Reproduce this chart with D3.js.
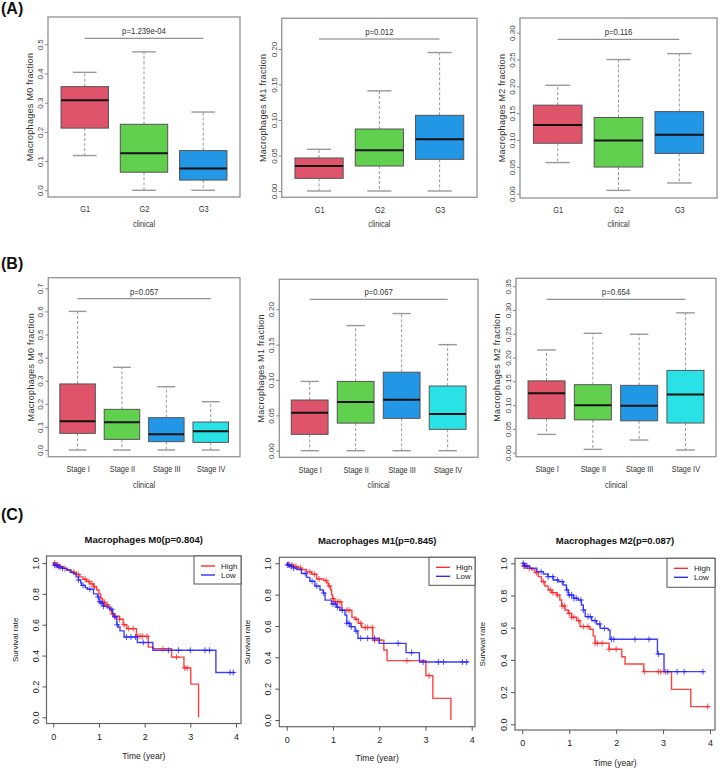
<!DOCTYPE html>
<html><head><meta charset="utf-8">
<script src="https://cdn.jsdelivr.net/npm/d3@7"></script>
<style>
body{margin:0;background:#fff}
svg{display:block}
text{font-family:"Liberation Sans",Arial,sans-serif}
</style>
</head><body>
<svg id="c" width="720" height="768"></svg>
<script>
// ---------- DATA ----------
const gradeCats = ["G1","G2","G3"];
const stageCats = ["Stage I","Stage II","Stage III","Stage IV"];
// each entry: [lower whisker, Q1, median, Q3, upper whisker]
const gradeM0 = [[0.119,0.213,0.308,0.355,0.404],[0,0.062,0.127,0.226,0.474],[0,0.035,0.075,0.136,0.268]];
const gradeM1 = [[0,0.0178,0.0352,0.0465,0.0587],[0,0.0352,0.0573,0.0873,0.141],[0,0.0446,0.0728,0.1066,0.195]];
const gradeM2 = [[0.058,0.094,0.128,0.165,0.202],[0.0062,0.0497,0.099,0.142,0.250],[0.020,0.075,0.110,0.153,0.261]];
const stageM0 = [[0,0.072,0.124,0.286,0.600],[0,0.046,0.120,0.176,0.358],[0,0.036,0.068,0.140,0.274],[0,0.033,0.081,0.121,0.209]];
const stageM1 = [[0,0.0231,0.0538,0.0717,0.098],[0,0.039,0.0689,0.098,0.177],[0,0.0458,0.0722,0.111,0.194],[0,0.0302,0.0519,0.0915,0.150]];
const stageM2 = [[0.0385,0.0715,0.125,0.151,0.216],[0.007,0.069,0.0995,0.143,0.251],[0.0266,0.067,0.0988,0.1416,0.249],[0.0056,0.0624,0.1226,0.173,0.294]];
const pGrade = ["p=1.239e-04","p=0.012","p=0.116"];
const pStage = ["p=0.057","p=0.067","p=0.654"];
const yLabels = ["Macrophages M0 fraction","Macrophages M1 fraction","Macrophages M2 fraction"];
const ticksGradeM0 = [0,0.1,0.2,0.3,0.4,0.5];
const ticksGradeM1 = [0,0.05,0.10,0.15,0.20];
const ticksGradeM2 = [0,0.05,0.10,0.15,0.20,0.25,0.30];
const ticksStageM0 = [0,0.1,0.2,0.3,0.4,0.5,0.6,0.7];
const ticksStageM1 = [0,0.05,0.10,0.15,0.20];
const ticksStageM2 = [0,0.05,0.10,0.15,0.20,0.25,0.30,0.35];

// Kaplan-Meier: drop times and survival after each drop
const kmM0HighT = [0.05,0.15,0.22,0.30,0.40,0.50,0.58,0.65,0.73,0.80,0.88,0.95,1.00,1.04,1.08,1.13,1.20,1.24,1.28,1.31,1.45,1.53,1.61,1.82,2.08,2.19,2.59,2.86,3.01,3.18];
const kmM0HighS = [0.985,0.975,0.965,0.955,0.94,0.925,0.91,0.895,0.88,0.865,0.845,0.825,0.80,0.77,0.745,0.73,0.72,0.69,0.67,0.655,0.635,0.60,0.575,0.525,0.455,0.445,0.39,0.32,0.215,0];
const kmM0HighEnd = 3.18;
const kmM0HighCens = [0.03,0.06,0.1,0.15,0.25,0.45,0.55,0.7,0.78,0.85,0.9,1.08,1.12,1.18,1.3,1.35,1.45,1.55,1.65,1.75,1.85,1.9,1.95,2.05,2.4,2.7,2.88,2.93];
const kmM0LowT = [0.01,0.10,0.20,0.29,0.37,0.44,0.50,0.55,0.60,0.62,0.70,0.75,0.88,0.97,1.00,1.04,1.09,1.18,1.24,1.30,1.33,1.39,1.42,1.46,1.55,1.84,2.18,3.56];
const kmM0LowS = [0.985,0.975,0.965,0.955,0.94,0.93,0.91,0.89,0.87,0.855,0.84,0.83,0.80,0.78,0.75,0.74,0.72,0.71,0.70,0.67,0.65,0.60,0.585,0.56,0.52,0.485,0.435,0.29];
const kmM0LowEnd = 3.98;
const kmM0LowCens = [0.03,0.08,0.12,0.2,0.55,0.65,0.8,0.98,1.02,1.05,1.1,1.28,1.35,1.4,1.6,1.7,1.8,1.97,2.52,2.74,3.0,3.32,3.42,3.87,3.94];

const kmM1HighT = [0.02,0.14,0.25,0.32,0.43,0.54,0.65,0.80,0.87,0.90,0.95,0.97,0.99,1.02,1.19,1.41,1.48,1.55,1.62,1.86,2.10,2.17,3.01,3.16,3.55];
const kmM1HighS = [0.99,0.98,0.97,0.96,0.945,0.93,0.90,0.89,0.875,0.855,0.83,0.80,0.775,0.755,0.70,0.655,0.643,0.617,0.59,0.51,0.447,0.379,0.283,0.138,0];
const kmM1HighEnd = 3.55;
const kmM1HighCens = [0.05,0.12,0.2,0.3,0.5,0.6,0.7,0.85,0.92,1.0,1.05,1.1,1.15,1.3,1.35,1.5,1.6,1.7,1.75,1.85,1.9,2.0,2.6,3.08];
const kmM1LowT = [0.01,0.07,0.15,0.22,0.32,0.43,0.50,0.61,0.72,0.79,0.83,0.97,1.08,1.15,1.26,1.30,1.37,1.48,1.54,2.00,2.58,2.87];
const kmM1LowS = [0.99,0.98,0.97,0.96,0.935,0.91,0.885,0.855,0.83,0.81,0.765,0.74,0.72,0.70,0.67,0.617,0.596,0.568,0.521,0.489,0.43,0.37];
const kmM1LowEnd = 3.93;
const kmM1LowCens = [0.02,0.05,0.1,0.15,0.4,0.55,0.65,0.8,1.0,1.05,1.1,1.2,1.3,1.35,1.4,1.5,1.6,1.75,1.9,2.41,2.70,2.95,3.28,3.39,3.80,3.89];

const kmM2HighT = [0.02,0.09,0.20,0.27,0.34,0.41,0.48,0.55,0.63,0.73,0.80,0.84,0.91,0.98,1.05,1.16,1.23,1.44,1.51,1.55,1.85,2.12,2.19,2.59,3.18,3.59];
const kmM2HighS = [0.983,0.969,0.959,0.942,0.917,0.886,0.859,0.834,0.818,0.803,0.772,0.735,0.71,0.689,0.665,0.644,0.607,0.59,0.549,0.503,0.466,0.42,0.375,0.327,0.217,0.11];
const kmM2HighEnd = 3.99;
const kmM2HighCens = [0.03,0.08,0.15,0.3,0.45,0.6,0.65,0.75,0.85,0.9,1.0,1.05,1.1,1.2,1.3,1.4,1.55,1.6,1.7,1.85,2.0,2.6,2.9,2.95,3.05,3.95];
const kmM2LowT = [0.05,0.16,0.31,0.45,0.55,0.66,0.77,0.87,0.94,0.98,1.09,1.19,1.26,1.30,1.34,1.48,1.58,1.66,1.83,1.87,2.88,3.02];
const kmM2LowS = [0.983,0.969,0.948,0.934,0.917,0.896,0.886,0.865,0.834,0.803,0.783,0.772,0.741,0.71,0.669,0.644,0.623,0.596,0.586,0.528,0.437,0.327];
const kmM2LowEnd = 3.87;
const kmM2LowCens = [0.02,0.05,0.1,0.4,0.55,0.65,0.75,0.85,0.95,1.0,1.05,1.1,1.15,1.25,1.3,1.4,1.45,1.55,1.65,1.75,1.9,1.95,2.4,2.7,2.9,3.1,3.3,3.45,3.85];
const kmTitles = ["Macrophages M0(p=0.804)","Macrophages M1(p=0.845)","Macrophages M2(p=0.087)"];
const kmXTicks = [0,1,2,3,4];
const kmYTicks = [0,0.2,0.4,0.6,0.8,1.0];
const legendLabels = ["High","Low"];

// ---------- STYLE ----------
const boxFill = ["#DF536B","#61D04F","#2297E6","#28E2E5"];
const kmColors = ["#FF2020","#2020FF"];
const NARROW = 0.82;
const svg = d3.select("#c");

function narrowText(g, x, y, txt, size, color){
  return g.append("text").attr("transform",`translate(${x},${y}) scale(${NARROW},1)`)
    .attr("text-anchor","middle").attr("fill",color).style("font-size",size).text(txt);
}

function boxPanel(L, cats, stats, pText, ticks, fmt, yLab){
  const n = cats.length;
  const g = svg.append("g");
  const x = d3.scaleLinear().domain([0.5-0.04*n, n+0.5+0.04*n]).range([L.l, L.r]);
  const y = d3.scaleLinear().domain([0, L.refV]).range([L.zero, L.refP]);
  const bw = (x(1)-x(0))*0.8;
  g.append("rect").attr("x",L.l).attr("y",L.t).attr("width",L.r-L.l).attr("height",L.b-L.t)
   .attr("fill","none").attr("stroke","#9a9a9a").attr("stroke-width",1.4);
  const ya = g.append("g").attr("transform",`translate(${L.l},0)`)
    .call(d3.axisLeft(y).tickValues(ticks).tickFormat(d3.format(fmt)).tickSize(3));
  ya.select(".domain").remove();
  ya.selectAll(".tick line").attr("stroke","#888");
  ya.selectAll(".tick text").attr("transform","rotate(-90)").attr("x",0).attr("y",-5)
    .attr("dy","0").style("text-anchor","middle").attr("fill","#444").style("font-size","8px");
  const xa = g.append("g").attr("transform",`translate(0,${L.b})`)
    .call(d3.axisBottom(x).tickValues(d3.range(1,n+1)).tickFormat(i=>cats[i-1]).tickSize(0).tickPadding(9));
  xa.select(".domain").remove();
  xa.selectAll(".tick text").attr("transform",`scale(${NARROW},1)`).attr("fill","#333").style("font-size","9px");
  narrowText(g,(L.l+L.r)/2,L.xlabY,"clinical","9px","#333");
  g.append("text").attr("transform",`translate(${L.ylabX},${(L.t+L.b)/2}) rotate(-90)`)
   .attr("text-anchor","middle").attr("fill","#333").style("font-size","9px").style("letter-spacing","0.3px").text(yLab);
  stats.forEach((s,i)=>{
    const cx = x(i+1);
    const [lo,q1,md,q3,hi] = s;
    g.append("line").attr("x1",cx).attr("x2",cx).attr("y1",y(q3)).attr("y2",y(hi))
      .attr("stroke","#999").attr("stroke-dasharray","3,2");
    g.append("line").attr("x1",cx).attr("x2",cx).attr("y1",y(q1)).attr("y2",y(lo))
      .attr("stroke","#999").attr("stroke-dasharray","3,2");
    [lo,hi].forEach(v=>g.append("line").attr("x1",cx-bw/4).attr("x2",cx+bw/4).attr("y1",y(v)).attr("y2",y(v))
      .attr("stroke","#999").attr("stroke-width",1.4));
    g.append("rect").attr("x",cx-bw/2).attr("y",y(q3)).attr("width",bw).attr("height",y(q1)-y(q3))
      .attr("fill",boxFill[i]).attr("stroke","#555").attr("stroke-width",1);
    g.append("line").attr("x1",cx-bw/2).attr("x2",cx+bw/2).attr("y1",y(md)).attr("y2",y(md))
      .attr("stroke","#111").attr("stroke-width",2);
  });
  g.append("line").attr("x1",x(1)).attr("x2",x(n)).attr("y1",L.pY).attr("y2",L.pY)
    .attr("stroke","#777").attr("stroke-width",1);
  narrowText(g,(x(1)+x(n))/2,L.pY-4,pText,"9.5px","#333");
}

const A = [
  {l:48, r:240, t:17, b:197, zero:190.3, refV:0.5, refP:44.3, pY:38.3, ylabX:33, xlabY:227},
  {l:281.7, r:477, t:18.3, b:197.3, zero:191, refV:0.2, refP:49, pY:39, ylabX:266, xlabY:227},
  {l:520, r:717, t:18, b:198, zero:193.7, refV:0.3, refP:32.7, pY:39.3, ylabX:505, xlabY:227}
];
const B = [
  {l:48.3, r:240, t:277.7, b:456.7, zero:450, refV:0.7, refP:288.3, pY:298.7, ylabX:34, xlabY:488},
  {l:279.3, r:478, t:279.3, b:457.3, zero:450.7, refV:0.2, refP:309.3, pY:299.3, ylabX:264, xlabY:488},
  {l:516, r:716, t:278.3, b:456.7, zero:452.7, refV:0.3, refP:310, pY:299.3, ylabX:500, xlabY:488}
];
boxPanel(A[0], gradeCats, gradeM0, pGrade[0], ticksGradeM0, ".1f", yLabels[0]);
boxPanel(A[1], gradeCats, gradeM1, pGrade[1], ticksGradeM1, ".2f", yLabels[1]);
boxPanel(A[2], gradeCats, gradeM2, pGrade[2], ticksGradeM2, ".2f", yLabels[2]);
boxPanel(B[0], stageCats, stageM0, pStage[0], ticksStageM0, ".1f", yLabels[0]);
boxPanel(B[1], stageCats, stageM1, pStage[1], ticksStageM1, ".2f", yLabels[1]);
boxPanel(B[2], stageCats, stageM2, pStage[2], ticksStageM2, ".2f", yLabels[2]);

function kmPanel(L, title, curves){
  const g = svg.append("g");
  const x = d3.scaleLinear().domain([0,4]).range([L.x0, L.x4]);
  const y = d3.scaleLinear().domain([0,1]).range([L.y0, L.y1]);
  g.append("rect").attr("x",L.l).attr("y",L.t).attr("width",L.r-L.l).attr("height",L.b-L.t)
   .attr("fill","none").attr("stroke","#666").attr("stroke-width",1.2);
  const ya = g.append("g").attr("transform",`translate(${L.l},0)`)
    .call(d3.axisLeft(y).tickValues(kmYTicks).tickFormat(d3.format(".1f")).tickSize(4));
  ya.select(".domain").remove();
  ya.selectAll(".tick line").attr("stroke","#555");
  ya.selectAll(".tick text").attr("transform","rotate(-90)").attr("x",0).attr("y",-8)
    .attr("dy","0").style("text-anchor","middle").attr("fill","#222").style("font-size","9px");
  const xa = g.append("g").attr("transform",`translate(0,${L.b})`)
    .call(d3.axisBottom(x).tickValues(kmXTicks).tickFormat(d3.format("d")).tickSize(4).tickPadding(6));
  xa.select(".domain").remove();
  xa.selectAll(".tick line").attr("stroke","#555");
  xa.selectAll(".tick text").attr("fill","#222").style("font-size","9px");
  g.append("text").attr("x",(L.l+L.r)/2).attr("y",L.titleY).attr("text-anchor","middle")
   .attr("fill","#111").style("font-size","9.5px").style("font-weight","bold").text(title);
  g.append("text").attr("x",(L.l+L.r)/2).attr("y",L.xlabY).attr("text-anchor","middle")
   .attr("fill","#222").style("font-size","8.5px").text("Time (year)");
  g.append("text").attr("transform",`translate(${L.ylabX},${(L.t+L.b)/2}) rotate(-90)`)
   .attr("text-anchor","middle").attr("fill","#222").style("font-size","8px").text("Survival rate");
  const line = d3.line().x(d=>x(d[0])).y(d=>y(d[1])).curve(d3.curveStepAfter);
  curves.forEach((c,ci)=>{
    const pts = [[0,1]];
    c.T.forEach((t,i)=>pts.push([t,c.S[i]]));
    pts.push([c.end, c.S[c.S.length-1]]);
    g.append("path").attr("d",line(pts)).attr("fill","none").attr("stroke",kmColors[ci])
     .attr("stroke-width",1.4).attr("stroke-opacity",0.85);
    const surv = t => { let s=1; c.T.forEach((tt,i)=>{ if(tt<=t) s=c.S[i]; }); return s; };
    c.cens.forEach(t=>{
      const px=x(t), py=y(surv(t));
      g.append("path").attr("d",`M${px-3},${py}H${px+3}M${px},${py-3}V${py+3}`)
       .attr("stroke",kmColors[ci]).attr("stroke-width",1.1).attr("stroke-opacity",0.7);
    });
  });
  const lg = g.append("g");
  lg.append("rect").attr("x",L.legX).attr("y",L.t).attr("width",L.r-L.legX).attr("height",L.legH)
    .attr("fill","#fff").attr("stroke","#555").attr("stroke-width",1);
  legendLabels.forEach((lab,i)=>{
    const yy = L.t + 10 + i*9;
    lg.append("line").attr("x1",L.legX+7).attr("x2",L.legX+21).attr("y1",yy).attr("y2",yy)
      .attr("stroke",kmColors[i]).attr("stroke-width",1.3);
    lg.append("text").attr("x",L.legX+27).attr("y",yy+3).attr("fill","#222").style("font-size","8px").text(lab);
  });
}

const C = [
  {l:46.5, r:241, t:556, b:723.5, x0:53.3, x4:236, y0:717.3, y1:563, titleY:543, xlabY:759, ylabX:18, legX:194, legH:28},
  {l:279.3, r:475, t:557.3, b:726.7, x0:286.7, x4:471.7, y0:720, y1:563.3, titleY:544, xlabY:761, ylabX:250, legX:429, legH:28},
  {l:515, r:715, t:558.3, b:730, x0:522.3, x4:710, y0:724.3, y1:563.3, titleY:544, xlabY:766, ylabX:485, legX:667, legH:29}
];
kmPanel(C[0], kmTitles[0], [
  {T:kmM0HighT,S:kmM0HighS,end:kmM0HighEnd,cens:kmM0HighCens},
  {T:kmM0LowT,S:kmM0LowS,end:kmM0LowEnd,cens:kmM0LowCens}]);
kmPanel(C[1], kmTitles[1], [
  {T:kmM1HighT,S:kmM1HighS,end:kmM1HighEnd,cens:kmM1HighCens},
  {T:kmM1LowT,S:kmM1LowS,end:kmM1LowEnd,cens:kmM1LowCens}]);
kmPanel(C[2], kmTitles[2], [
  {T:kmM2HighT,S:kmM2HighS,end:kmM2HighEnd,cens:kmM2HighCens},
  {T:kmM2LowT,S:kmM2LowS,end:kmM2LowEnd,cens:kmM2LowCens}]);

[["(A)",14],["(B)",269],["(C)",520]].forEach(([t,yy])=>{
  svg.append("text").attr("x",1).attr("y",yy).attr("fill","#111")
    .style("font-size","16px").style("font-weight","bold").text(t);
});
</script>
</body></html>
